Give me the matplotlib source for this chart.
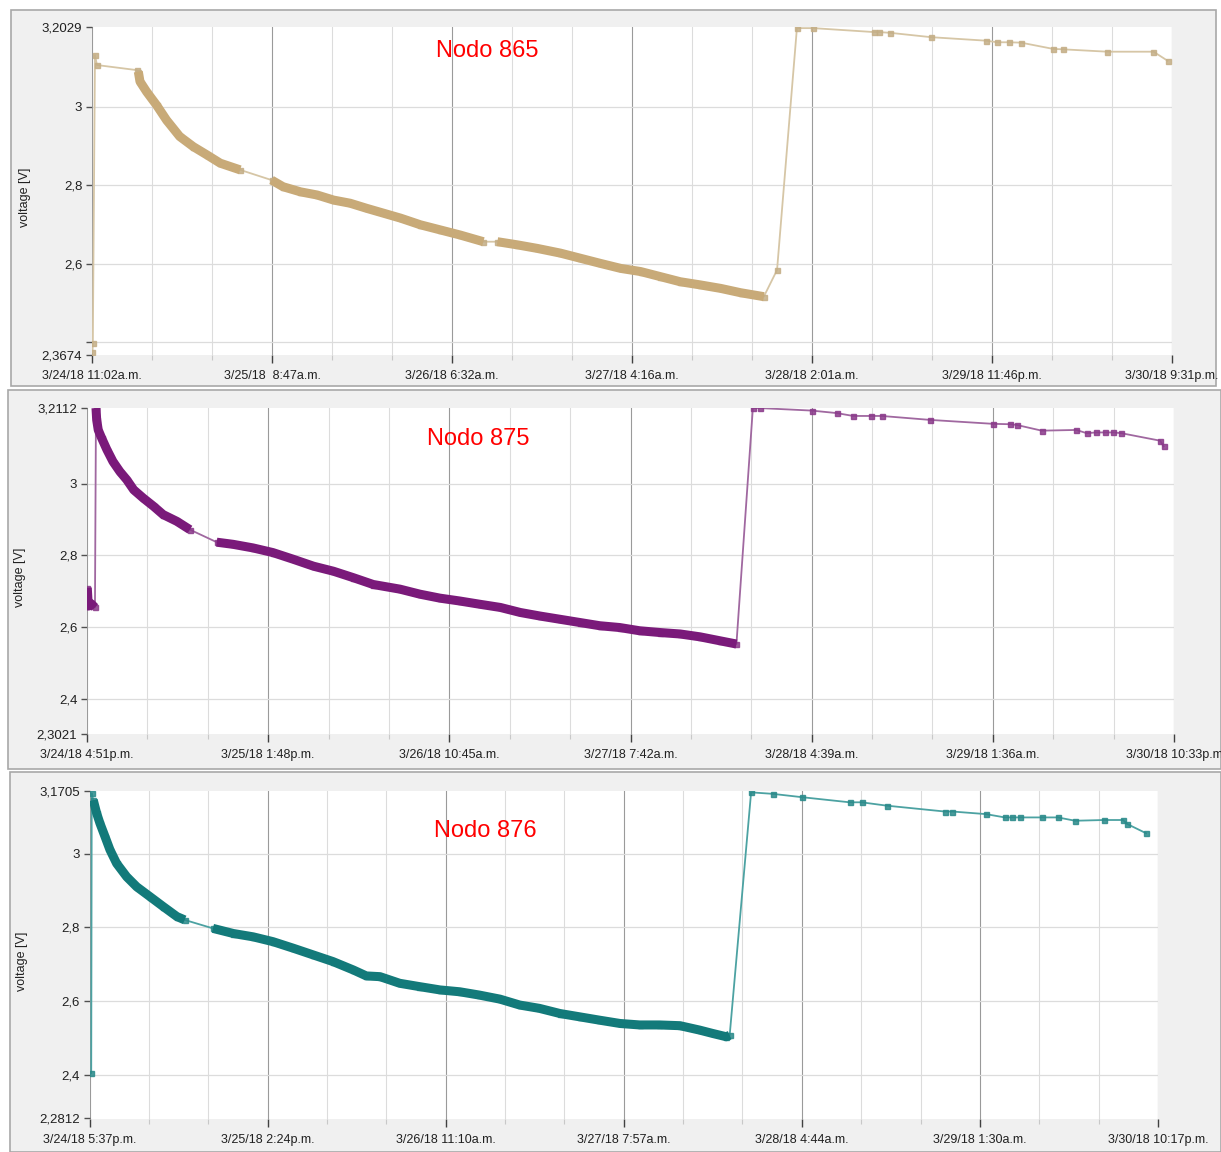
"""
Battery voltage of three sensor nodes (Nodo 865 / 875 / 876), 24-30 March 2018.
Three stacked chart panels, each rebuilt like the original screenshot.
"""

import matplotlib
matplotlib.use('Agg')
import matplotlib.pyplot as plt
from matplotlib.patches import Rectangle
from matplotlib.ticker import FixedLocator, MultipleLocator

W, H = 1221, 1152

# ---------------------------------------------------------------- data
# time in hours since the first axis tick, voltage in V

N865_STEP_H = 21.75
N865_XLABELS = ["3/24/18 11:02a.m.", "3/25/18  8:47a.m.", "3/26/18 6:32a.m.",
                "3/27/18 4:16a.m.", "3/28/18 2:01a.m.", "3/29/18 11:46p.m.",
                "3/30/18 9:31p.m."]
N865_YLIM = (2.3674, 3.2029)
N865_T = [0.05, 0.1, 0.36, 0.6, 5.44,
          5.6, 5.8, 6.6, 7.8, 9.0, 10.6, 12.25, 13.9, 15.5, 17.9,
          21.7, 23.1, 25.2, 27.2, 29.2, 31.2, 33.2, 37.3, 39.7, 42.1, 44.5, 47.3,
          49.0, 51.4, 53.8, 56.6, 59.0, 61.4, 63.9, 66.3, 68.7, 71.1, 73.5, 76.0,
          78.4, 81.2,
          82.8, 85.2, 87.2, 94.5, 95.1, 96.5, 101.4, 108.1, 109.4, 110.8, 112.3,
          116.2, 117.4, 122.7, 128.3, 130.0]
N865_V = [2.375, 2.398, 3.131, 3.106, 3.093,
          3.089, 3.064, 3.038, 3.004, 2.966, 2.924, 2.898, 2.877, 2.856, 2.839,
          2.813, 2.796, 2.783, 2.775, 2.762, 2.754, 2.741, 2.716, 2.699, 2.686, 2.673, 2.656,
          2.656, 2.648, 2.639, 2.627, 2.614, 2.601, 2.588, 2.580, 2.567, 2.554, 2.546, 2.537,
          2.526, 2.516,
          2.584, 3.200, 3.200, 3.190, 3.190, 3.188, 3.177, 3.168, 3.164, 3.164, 3.163,
          3.147, 3.146, 3.140, 3.140, 3.117]
# spans (hours) where the node logged densely
N865_BURSTS = [(5.6, 17.9), (21.7, 47.3), (49.0, 81.2)]

N875_STEP_H = 20.95
N875_XLABELS = ["3/24/18 4:51p.m.", "3/25/18 1:48p.m.", "3/26/18 10:45a.m.",
                "3/27/18 7:42a.m.", "3/28/18 4:39a.m.", "3/29/18 1:36a.m.",
                "3/30/18 10:33p.m"]
N875_YLIM = (2.3021, 3.2112)
N875_T = [0.03, 0.15, 0.5, 0.92,
          1.04, 1.12, 1.3, 1.7, 2.3, 3.0, 3.8, 4.6, 5.4, 6.5, 7.7, 8.8, 10.4, 11.9,
          15.0, 16.9, 19.2, 21.5, 23.9, 26.2, 28.5, 30.8, 33.1, 36.2, 38.5, 40.8,
          43.1, 45.4, 47.8, 50.1, 52.4, 54.7, 57.0, 59.3, 61.6, 63.9, 66.3, 68.6,
          70.9, 73.2, 75.1,
          77.0, 77.8, 83.8, 86.7, 88.6, 90.7, 91.9, 97.5, 104.8, 106.7, 107.5,
          110.4, 114.4, 115.6, 116.7, 117.7, 118.7, 119.6, 124.1, 124.5]
N875_V = [2.710, 2.659, 2.665, 2.655,
          3.211, 3.178, 3.150, 3.127, 3.095, 3.062, 3.034, 3.011, 2.983, 2.960, 2.937,
          2.914, 2.895, 2.872,
          2.837, 2.831, 2.821, 2.808, 2.789, 2.770, 2.756, 2.738, 2.719, 2.706, 2.692,
          2.681, 2.673, 2.664, 2.655, 2.641, 2.631, 2.622, 2.613, 2.604, 2.599, 2.590,
          2.585, 2.581, 2.573, 2.562, 2.553,
          3.211, 3.211, 3.204, 3.197, 3.189, 3.189, 3.189, 3.178, 3.167, 3.166, 3.164,
          3.148, 3.150, 3.141, 3.143, 3.143, 3.143, 3.141, 3.120, 3.104]
N875_BURSTS = [(0.0, 0.95), (1.0, 11.9), (15.0, 75.1)]

N876_STEP_H = 20.78
N876_XLABELS = ["3/24/18 5:37p.m.", "3/25/18 2:24p.m.", "3/26/18 11:10a.m.",
                "3/27/18 7:57a.m.", "3/28/18 4:44a.m.", "3/29/18 1:30a.m.",
                "3/30/18 10:17p.m."]
N876_YLIM = (2.2812, 3.1705)
N876_T = [0.2, 0.26, 0.44,
          0.84, 1.22, 1.81, 2.39, 3.17, 4.34, 5.50, 7.06, 8.61, 10.2, 11.1,
          14.4, 16.8, 19.1, 21.4, 23.8, 26.1, 28.4, 30.8, 32.3, 33.9, 36.2, 38.5,
          40.9, 43.2, 45.5, 47.9, 50.2, 52.5, 54.9, 57.2, 59.5, 61.9, 64.2, 66.5,
          68.9, 71.2, 72.7, 74.3, 74.7,
          77.2, 79.7, 83.1, 88.7, 90.1, 93.0, 99.8, 100.7, 104.6, 106.8, 107.7,
          108.6, 111.2, 113.0, 115.0, 118.4, 120.6, 121.1, 123.3]
N876_V = [2.404, 3.163, 3.145,
          3.109, 3.082, 3.046, 3.010, 2.973, 2.937, 2.910, 2.883, 2.856, 2.829, 2.820,
          2.797, 2.783, 2.774, 2.761, 2.743, 2.725, 2.707, 2.684, 2.668, 2.666, 2.648,
          2.639, 2.630, 2.625, 2.616, 2.605, 2.589, 2.580, 2.566, 2.557, 2.548, 2.539,
          2.535, 2.535, 2.533, 2.521, 2.512, 2.503, 2.507,
          3.166, 3.162, 3.153, 3.139, 3.139, 3.130, 3.114, 3.114, 3.107, 3.098, 3.098,
          3.098, 3.098, 3.098, 3.089, 3.091, 3.091, 3.080, 3.055]
N876_BURSTS = [(0.44, 11.1), (14.4, 74.7)]

YTICKS_NICE = [2.4, 2.6, 2.8, 3.0]

# ---------------------------------------------------------------- style
TICK_FONT = ['Liberation Sans Narrow', 'Liberation Sans', 'DejaVu Sans']
BG_GRAY = '#f0f0f0'
FRAME = '#a8a8a8'
GRID_LIGHT = '#dcdcdc'
GRID_MAJOR = '#9a9a9a'

PANELS = [
    dict(name='Nodo 865', t=N865_T, v=N865_V, bursts=N865_BURSTS,
         step=N865_STEP_H, xlabels=N865_XLABELS, ylim=N865_YLIM, hide_y=[2.4],
         line='#d6c6a6', dense='#c8aa78', marker='#c4ae86',
         box=(11, 10, 1216, 386), axes=(92, 27, 1171.7, 355),
         title_xy=(487, 51), ylabel_x=31),
    dict(name='Nodo 875', t=N875_T, v=N875_V, bursts=N875_BURSTS,
         step=N875_STEP_H, xlabels=N875_XLABELS, ylim=N875_YLIM, hide_y=[],
         line='#a068a0', dense='#7a1a7a', marker='#8a3a8a',
         box=(8, 390, 1221, 769), axes=(87, 408, 1174, 734),
         title_xy=(478, 439), ylabel_x=26),
    dict(name='Nodo 876', t=N876_T, v=N876_V, bursts=N876_BURSTS,
         step=N876_STEP_H, xlabels=N876_XLABELS, ylim=N876_YLIM, hide_y=[],
         line='#4ca2a2', dense='#137a7a', marker='#2a8a8a',
         box=(10, 772, 1221, 1152), axes=(89.5, 790.7, 1158, 1118.5),
         title_xy=(485, 831), ylabel_x=28),
]


def px_rect(x0, y0, x1, y1):
    """Pixel box (top-left origin) -> figure fraction [left, bottom, w, h]."""
    return [x0 / W, 1 - y1 / H, (x1 - x0) / W, (y1 - y0) / H]


def comma(v):
    s = f'{v:.4f}'.rstrip('0').rstrip('.')
    return s.replace('.', ',')


def draw_panel(fig, p):
    bx = px_rect(*p['box'])
    fig.add_artist(Rectangle((bx[0], bx[1]), bx[2], bx[3], transform=fig.transFigure,
                             facecolor=BG_GRAY, edgecolor=FRAME, linewidth=1.2, zorder=0))

    ax = fig.add_axes(px_rect(*p['axes']))
    ax.set_facecolor('white')
    for s in ax.spines.values():
        s.set_visible(False)

    step = p['step']
    ax.set_xlim(0, 6 * step)
    ax.set_ylim(*p['ylim'])

    # vertical grid: light every third of a step, darker on labelled ticks
    for k in range(19):
        x = k * step / 3
        major = k % 3 == 0
        ax.axvline(x, color=GRID_MAJOR if major else GRID_LIGHT, lw=0.8, zorder=1)
    for y in YTICKS_NICE:
        ax.axhline(y, color=GRID_LIGHT, lw=0.9, zorder=1)

    t, v = p['t'], p['v']
    ax.plot(t, v, color=p['line'], lw=1.3, zorder=3)
    ax.plot(t, v, ls='none', marker='s', ms=3.6, color=p['marker'], alpha=0.85, zorder=4)
    for a, b in p['bursts']:
        bt = [ti for ti in t if a <= ti <= b]
        bv = [vi for ti, vi in zip(t, v) if a <= ti <= b]
        ax.plot(bt, bv, color=p['dense'], lw=6.5, solid_capstyle='butt',
                solid_joinstyle='round', zorder=5)

    # ticks
    ax.xaxis.set_major_locator(FixedLocator([k * step for k in range(7)]))
    ax.xaxis.set_minor_locator(MultipleLocator(step / 3))
    ax.set_xticklabels(p['xlabels'], family=TICK_FONT, fontsize=9, color='#202020')
    ax.tick_params(axis='x', which='major', length=6, width=1.0, color='#404040', pad=5)
    ax.tick_params(axis='x', which='minor', length=3.5, width=0.8, color='#c8c8c8')

    lo, hi = p['ylim']
    yt = [lo] + YTICKS_NICE + [hi]
    ax.set_yticks(yt)
    ax.set_yticklabels(['' if y in p['hide_y'] else comma(y) for y in yt],
                       family=TICK_FONT, fontsize=9.5, color='#202020')
    ax.tick_params(axis='y', length=4.5, width=1.0, color='#505050', pad=2.5)

    ax.set_ylabel('voltage [V]', family=['Liberation Sans', 'DejaVu Sans'],
                  fontsize=9, color='#202020')
    x0, y0, x1, y1 = p['axes']
    ax.yaxis.set_label_coords((p['ylabel_x'] - x0) / (x1 - x0), 0.48)

    tx, ty = p['title_xy']
    fig.text(tx / W, 1 - ty / H, p['name'], color='#ff0000', fontsize=17,
             family=['Liberation Sans', 'DejaVu Sans'], ha='center', va='center')
    return ax


def main():
    fig = plt.figure(figsize=(W / 100, H / 100), dpi=100)
    fig.patch.set_facecolor('white')
    for p in PANELS:
        draw_panel(fig, p)
    fig.savefig('out.png', dpi=100)


if __name__ == '__main__':
    main()
